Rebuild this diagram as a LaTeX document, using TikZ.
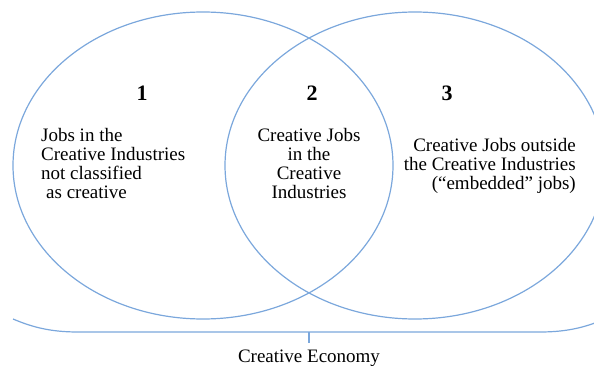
\documentclass[tikz,border=0pt]{standalone}
\usepackage{fontspec}
\setmainfont{Liberation Serif}
\usepackage{tikz}
\definecolor{vblue}{HTML}{7BA7DC}

\begin{document}
\begin{tikzpicture}[x=1pt, y=-1pt,
    venn/.style={draw=vblue, line width=1.2pt},
    num/.style={inner sep=0pt, font=\fontsize{22}{22}\selectfont\bfseries},
    txt/.style={inner sep=0pt, font=\fontsize{19}{19}\selectfont}]
      \useasboundingbox (0,0) rectangle (594,366);
      \clip (0,0) rectangle (594,366);
      % Define the two sets
      \draw[venn] (203,165.5) ellipse [x radius=190, y radius=153.5];
      \draw[venn] (415,165.5) ellipse [x radius=190, y radius=153.5];
      % Define nodes
      \node[num] (n1) at (142,93.5) {1};
      \node[num] (n2) at (312,93.5) {2};
      \node[num] (n3) at (447,93.5) {3};
      \node[txt, anchor=north west, align=left] (t1) at (41,128.3)
        {Jobs in the\\Creative Industries\\not classified\\\hspace{5pt}as creative};
      \node[txt, anchor=north, align=center] (t2) at (309,128.3)
        {Creative Jobs\\in the\\Creative\\Industries};
      \node[txt, anchor=north east, align=right] (t3) at (576,138.3)
        {Creative Jobs outside\\the Creative Industries\\(“embedded” jobs)};
      \node[txt, anchor=base] (eco) at (309,362) {Creative Economy};
      % Brace under the sets
      \coordinate (bl) at (13,319);
      \coordinate (br) at (605,319);
      \coordinate (bm) at (309,332);
      \coordinate (tk) at (309,343);
      \draw[venn] (bl) .. controls (32,327) and (50,332) .. (78,332)
        -- (540,332) .. controls (568,332) and (586,327) .. (br);
      \draw[venn] (bm) -- (tk);
    \end{tikzpicture}
\end{document}
